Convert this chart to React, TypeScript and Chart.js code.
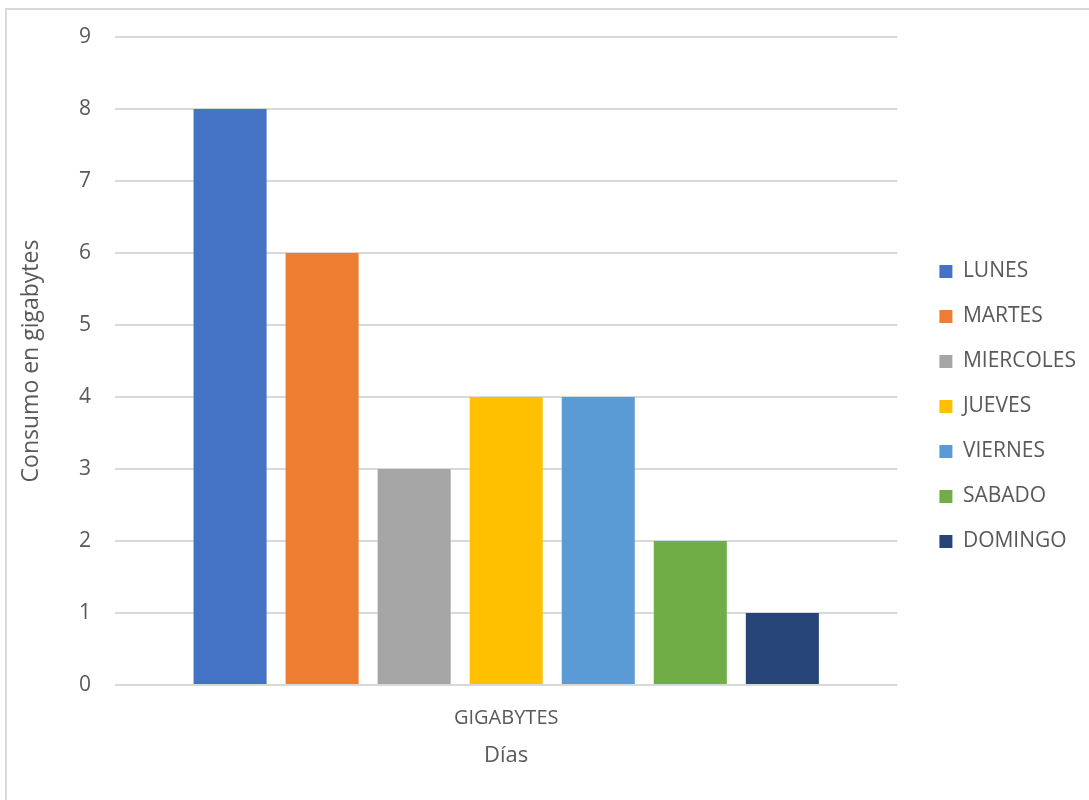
import { useEffect, useRef } from 'react';
import { Chart, registerables } from 'chart.js';

Chart.register(...registerables);

// Data
const CATEGORIES = ['GIGABYTES'];
const DAYS = ['LUNES', 'MARTES', 'MIERCOLES', 'JUEVES', 'VIERNES', 'SABADO', 'DOMINGO'];
const GIGABYTES_USED = [8, 6, 3, 4, 4, 2, 1];
const DAY_COLORS = ['#4472C4', '#ED7D31', '#A5A5A5', '#FFC000', '#5B9BD5', '#70AD47', '#264478'];
const Y_TICKS = [0, 1, 2, 3, 4, 5, 6, 7, 8, 9];
const Y_TITLE = 'Consumo en gigabytes';
const X_TITLE = 'Días';

const FONT = '"Open Sans", "DejaVu Sans", sans-serif';
const TEXT = '#595959';
const GRID = '#D9D9D9';

const W = 1089;
const H = 800;

// Moves the legend a little away from the plot area.
const LEGEND_SHIFT_X = 18;
const LEGEND_SHIFT_Y = -12;

const legendShift = {
  id: 'legendShift',
  afterLayout(chart: any) {
    const l = chart.legend;
    if (!l) return;
    l.left += LEGEND_SHIFT_X;
    l.right += LEGEND_SHIFT_X;
    l.top += LEGEND_SHIFT_Y;
    l.bottom += LEGEND_SHIFT_Y;
  },
};

export default function App() {
  const ref = useRef<HTMLCanvasElement | null>(null);

  useEffect(() => {
    if (!ref.current) return;
    const chart = new Chart(ref.current, {
      type: 'bar',
      data: {
        labels: CATEGORIES,
        datasets: DAYS.map((day, i) => ({
          label: day,
          data: [GIGABYTES_USED[i]],
          backgroundColor: DAY_COLORS[i],
          borderWidth: 0,
          categoryPercentage: 0.8235,
          barPercentage: 0.7935,
        })),
      },
      plugins: [legendShift],
      options: {
        animation: false,
        responsive: false,
        devicePixelRatio: 1,
        layout: { padding: { top: 37, right: 21, bottom: 0, left: 0 } },
        plugins: {
          tooltip: { enabled: false },
          title: { display: false },
          legend: {
            position: 'right',
            labels: {
              boxWidth: 13,
              boxHeight: 13,
              padding: 24,
              color: TEXT,
              font: { family: FONT, size: 21 },
            },
          },
        },
        scales: {
          x: {
            grid: { display: false, drawTicks: false },
            border: { display: false },
            ticks: { color: TEXT, font: { family: FONT, size: 20 }, padding: 21 },
            title: {
              display: true,
              text: X_TITLE,
              color: TEXT,
              font: { family: FONT, size: 22 },
              padding: { top: 0, bottom: 31 },
            },
            afterFit(scale: any) {
              scale.height = 115;
            },
          },
          y: {
            min: 0,
            max: 9,
            grid: { color: GRID, lineWidth: 2, drawTicks: false },
            border: { display: false },
            ticks: { color: TEXT, font: { family: FONT, size: 21 }, padding: 24, stepSize: 1 },
            afterBuildTicks(scale: any) {
              scale.ticks = Y_TICKS.map((v) => ({ value: v }));
            },
            title: {
              display: true,
              text: Y_TITLE,
              color: TEXT,
              font: { family: FONT, size: 23 },
              padding: { top: 18, bottom: 0 },
            },
            afterFit(scale: any) {
              scale.width = 115;
            },
          },
        },
      },
    });
    return () => chart.destroy();
  }, []);

  return (
    <div style={{ position: 'fixed', left: 0, top: 0, width: W, height: H, background: '#fff' }}>
      <div
        style={{
          position: 'absolute',
          left: 5,
          top: 8,
          right: -4,
          bottom: -4,
          borderLeft: `2px solid ${GRID}`,
          borderTop: `2px solid ${GRID}`,
        }}
      />
      <canvas ref={ref} width={W} height={H} style={{ position: 'absolute', left: 0, top: 0 }} />
    </div>
  );
}
